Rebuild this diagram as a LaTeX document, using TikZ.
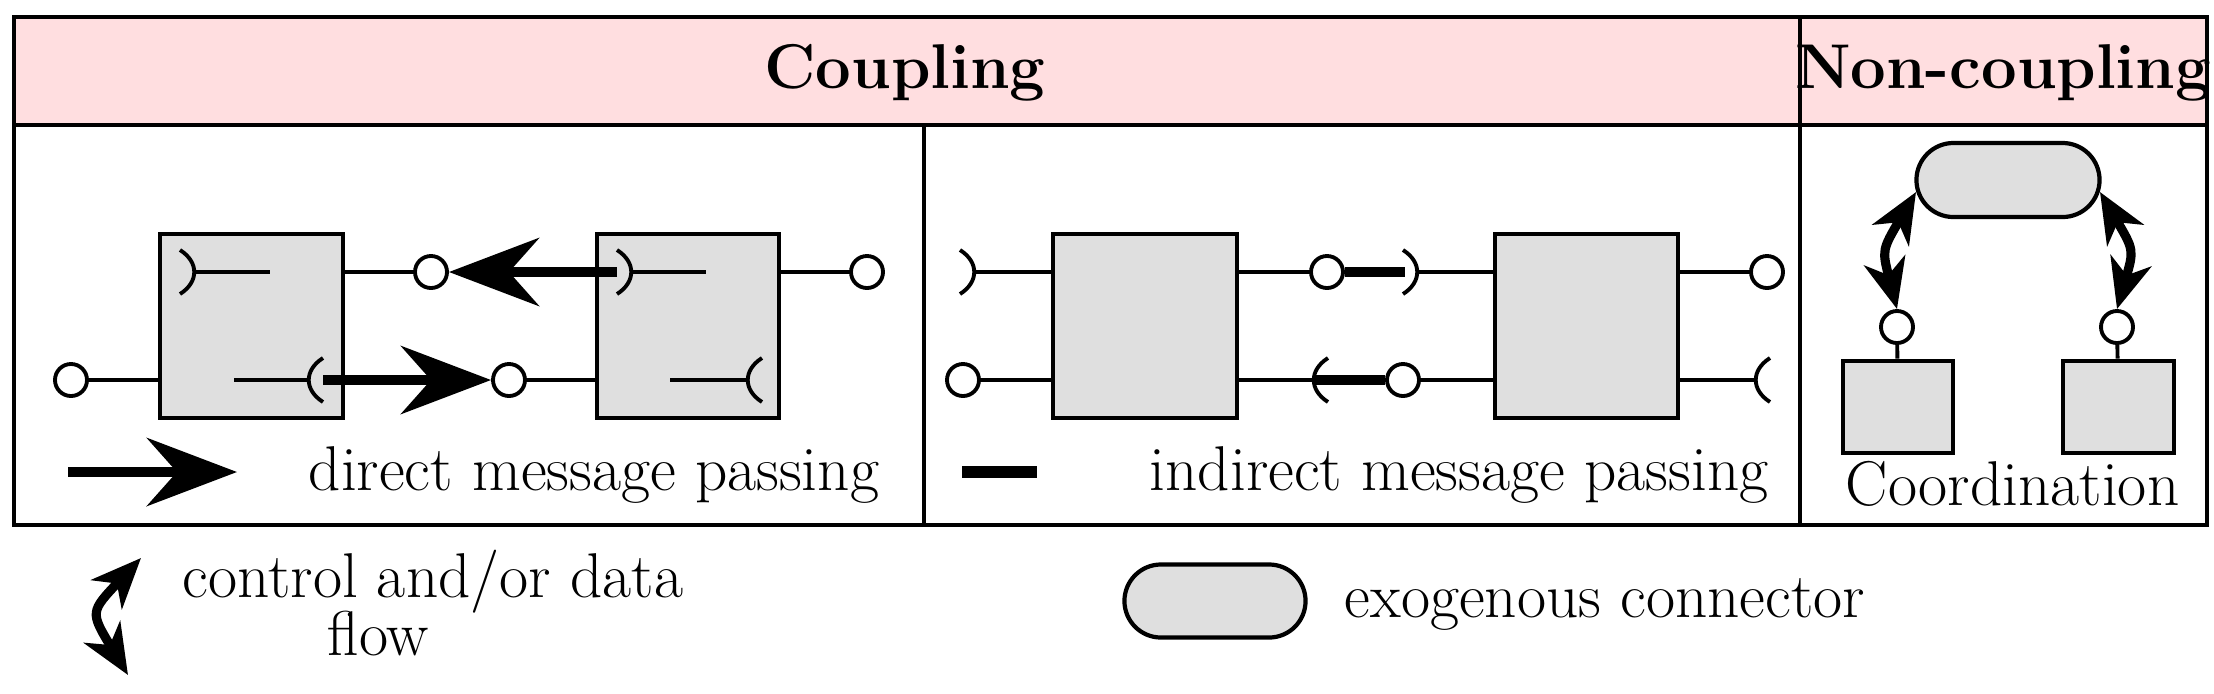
\documentclass[tikz,border=0pt]{standalone}
\usetikzlibrary{arrows.meta,shapes.misc}
\definecolor{hdr}{RGB}{255,222,224}
\definecolor{boxg}{RGB}{223,223,223}
\newcommand\sockR[2]{\draw[thin line] (#1,#2-22) .. controls (#1+19,#2-10) and (#1+19,#2+10) .. (#1,#2+22);}
\newcommand\sockL[2]{\draw[thin line] (#1,#2-22) .. controls (#1-19,#2-10) and (#1-19,#2+10) .. (#1,#2+22);}
\begin{document}
\begin{tikzpicture}[x=0.01cm,y=-0.01cm,
  thin line/.style={line width=1.1pt},
  box/.style={draw,fill=boxg,line width=1.3pt,inner sep=0pt},
  port/.style={circle,draw,fill=white,line width=1.1pt,minimum size=0.32cm,inner sep=0pt},
  dmp/.style={line width=2.8pt,-{Stealth[length=0.9cm,width=0.68cm,inset=0.3cm]}},
  imp/.style={line width=3pt},
  flow/.style={line width=2.6pt,{Stealth[length=0.5cm,width=0.42cm,inset=0.15cm]}-{Stealth[length=0.5cm,width=0.42cm,inset=0.15cm]}},
  txt/.style={font=\fontsize{18}{20}\selectfont,inner sep=0pt,anchor=base west},
  head/.style={font=\bfseries\fontsize{18}{20}\selectfont,inner sep=0pt,anchor=base}]
\useasboundingbox (0,0) rectangle (2214,693);
% table
\fill[hdr] (14,17) rectangle (2207,125);
\draw[line width=1.3pt] (14,17) rectangle (2207,525);
\draw[line width=1.3pt] (14,125) -- (2207,125);
\draw[line width=1.1pt] (1800,17) -- (1800,525);
\draw[line width=1.1pt] (924,125) -- (924,525);
\node[head] (hc) at (905,88) {Coupling};
\node[head] (hn) at (2003,88) {Non-coupling};
% direct message passing
\node[box,minimum width=1.83cm,minimum height=1.84cm] (b1) at (251.5,326) {};
\node[box,minimum width=1.82cm,minimum height=1.84cm] (b2) at (688,326) {};
\node[port] (c1) at (431,272) {};
\node[port] (c2) at (867,272) {};
\node[port] (c3) at (71,380) {};
\node[port] (c4) at (509,380) {};
\draw[thin line] (c1) -- (c1 -| b1.east);
\draw[thin line] (c2) -- (c2 -| b2.east);
\draw[thin line] (c3) -- (c3 -| b1.west);
\draw[thin line] (c4) -- (c4 -| b2.west);
\sockR{180}{272}\draw[thin line] (196,272) -- (270,272);
\draw[thin line] (234,380) -- (308,380);\sockL{323}{380}
\sockR{617}{272}\draw[thin line] (633,272) -- (706,272);
\draw[thin line] (670,380) -- (747,380);\sockL{762}{380}
\coordinate (s1) at (617,272);
\coordinate (s2) at (323,380);
\draw[dmp] (s1) -- (c1);
\draw[dmp] (s2) -- (c4);
\coordinate (l1) at (68,472);
\coordinate (l2) at (237,472);
\draw[dmp] (l1) -- (l2);
\node[txt] (t1) at (308,490) {direct message passing};
% indirect message passing
\node[box,minimum width=1.84cm,minimum height=1.84cm] (b3) at (1145,326) {};
\node[box,minimum width=1.83cm,minimum height=1.84cm] (b4) at (1586.5,326) {};
\node[port] (c5) at (963,380) {};
\node[port] (c6) at (1327,272) {};
\node[port] (c7) at (1403,380) {};
\node[port] (c8) at (1767,272) {};
\sockR{960}{272}\draw[thin line] (976,272) -- (1053,272);
\draw[thin line] (c5) -- (c5 -| b3.west);
\draw[thin line] (c6) -- (c6 -| b3.east);
\coordinate (s3) at (1405,272);
\draw[imp] (c6) -- (s3);
\sockR{1403}{272}\draw[thin line] (1418,272) -- (1495,272);
\draw[thin line] (1237,380) -- (1313,380);\sockL{1328}{380}
\coordinate (s4) at (1314,380);
\draw[imp] (s4) -- (c7);
\draw[thin line] (c7) -- (c7 -| b4.west);
\draw[thin line] (c8) -- (c8 -| b4.east);
\draw[thin line] (1678,380) -- (1755,380);\sockL{1770}{380}
\coordinate (l3) at (962,472);
\coordinate (l4) at (1037,472);
\draw[imp,line width=3.2pt] (l3) -- (l4);
\node[txt] (t2) at (1149,490) {indirect message passing};
% coordination
\node[rounded rectangle,draw,fill=boxg,line width=1.2pt,minimum width=1.83cm,minimum height=0.74cm,inner sep=0pt] (p) at (2008,180) {};
\node[box,minimum width=1.1cm,minimum height=0.92cm] (b5) at (1898,407) {};
\node[box,minimum width=1.11cm,minimum height=0.92cm] (b6) at (2118.5,407) {};
\node[port] (c9) at (1897,327) {};
\node[port] (c10) at (2117,327) {};
\draw[thin line] (c9) -- (b5);
\draw[thin line] (c10) -- (b6);
\coordinate (f1) at (1916,192);
\coordinate (f2) at (2100,192);
\draw[flow] (f1) .. controls (1882,250) .. (c9.north);
\draw[flow] (f2) .. controls (2134,250) .. (c10.north);
\node[txt] (t3) at (1845,505) {Coordination};
% legend
\coordinate (g1) at (141,558);
\coordinate (g2) at (128,675);
\draw[flow] (g1) .. controls (90,612) .. (g2);
\node[txt] (t4) at (182,597) {control and/or data};
\node[txt] (t5) at (327,655) {flow};
\node[rounded rectangle,draw,fill=boxg,line width=1.2pt,minimum width=1.81cm,minimum height=0.73cm,inner sep=0pt] (p2) at (1215,601) {};
\node[txt] (t6) at (1344,617) {exogenous connector};
\end{tikzpicture}
\end{document}
